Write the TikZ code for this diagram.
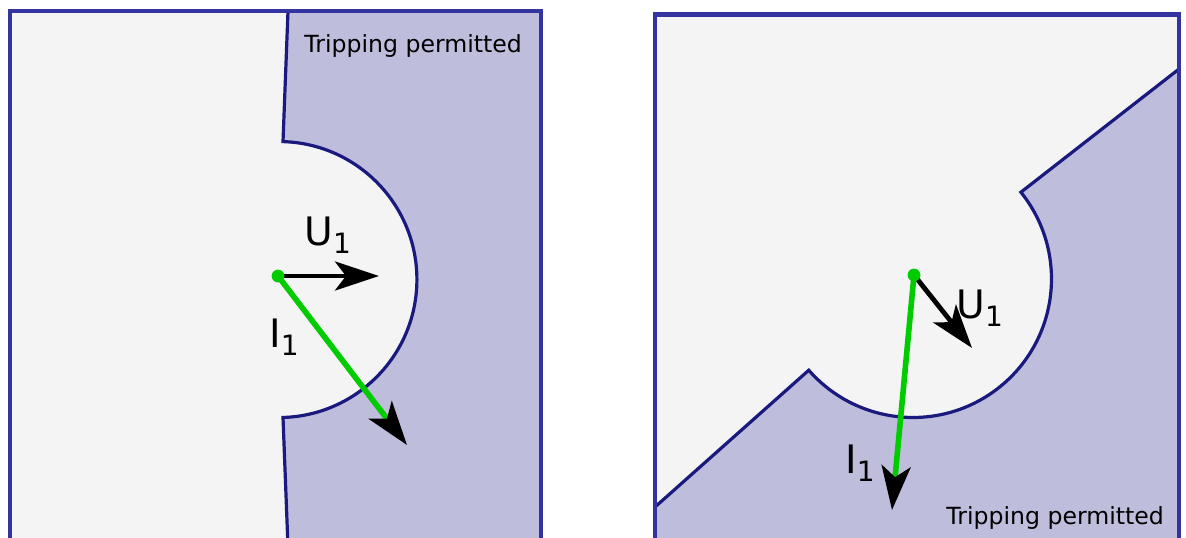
\documentclass[tikz,border=0pt]{standalone}
\usepackage{fontspec}
\setmainfont{DejaVu Sans}
\usepackage{tikz}
\usetikzlibrary{arrows.meta}
\definecolor{bgfill}{HTML}{F4F4F4}
\definecolor{tripfill}{HTML}{BEBDDC}
\definecolor{edgeblue}{HTML}{1A1A7E}
\definecolor{frameblue}{HTML}{3434A0}
\definecolor{phasegreen}{HTML}{00CC00}
\newcommand{\vlabel}[2]{#1\raisebox{-4pt}{\fontsize{14}{14}\selectfont #2}}

\begin{document}
\begin{tikzpicture}[x=0.5pt, y=0.5pt,
  frame/.style={draw=frameblue, line width=2.2pt},
  border/.style={draw=edgeblue, line width=1.6pt, line join=miter},
  vec/.style={line width=2.4pt, -{Stealth[color=black, length=22pt, width=14.5pt, inset=5.5pt]}},
  lbl/.style={anchor=base west, inner sep=0pt, font=\fontsize{19.6}{20}\selectfont},
  note/.style={anchor=base west, inner sep=0pt, font=\fontsize{11.8}{13}\selectfont}]
  \useasboundingbox (0,0) rectangle (1186,537);
  \clip (0,0) rectangle (1186,537);

  % left panel
  \fill[bgfill] (10,526) rectangle (541,-10);
  \fill[tripfill] (288,526) -- (283,395.4)
    arc[start angle=88.3, end angle=-88.3, radius=69pt] -- (288,-10)
    -- (541,-10) -- (541,526) -- cycle;
  \draw[border] (288,526) -- (283,395.4)
    arc[start angle=88.3, end angle=-88.3, radius=69pt] -- (288,-10);
  \draw[frame] (10,-10) -- (10,526) -- (541,526) -- (541,-10);
  \node[note] (tripL) at (304,485) {Tripping permitted};

  \coordinate (dotL) at (278,261);
  \coordinate (uL) at (379,261);
  \coordinate (iL) at (407,92);
  \draw[vec] (dotL) -- (uL);
  \draw[vec, phasegreen, line width=2.8pt] (dotL) -- (iL);
  \fill[phasegreen] (dotL) circle (3.2pt);
  \node[lbl] (uLabL) at (304,292) {\vlabel{U}{1}};
  \node[lbl] (iLabL) at (269,190) {\vlabel{I}{1}};

  % right panel
  \fill[bgfill] (655,522.5) rectangle (1179,-10);
  \fill[tripfill] (1179,468) -- (1020.9,344.8)
    arc[start angle=38.8, end angle=-138.8, radius=69.25pt] -- (655,30)
    -- (655,-10) -- (1179,-10) -- cycle;
  \draw[border] (1179,468) -- (1020.9,344.8)
    arc[start angle=38.8, end angle=-138.8, radius=69.25pt] -- (655,30);
  \draw[frame] (655,-10) -- (655,522.5) -- (1179,522.5) -- (1179,-10);
  \node[note] (tripR) at (946,13) {Tripping permitted};

  \coordinate (dotR) at (914,262);
  \coordinate (uR) at (972,189);
  \coordinate (iR) at (892,27);
  \draw[vec] (dotR) -- (uR);
  \draw[vec, phasegreen, line width=2.8pt] (dotR) -- (iR);
  \fill[phasegreen] (dotR) circle (3.2pt);
  \node[lbl] (uLabR) at (956,219) {\vlabel{U}{1}};
  \node[lbl] (iLabR) at (845,64) {\vlabel{I}{1}};
\end{tikzpicture}
\end{document}
